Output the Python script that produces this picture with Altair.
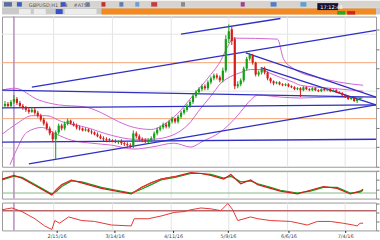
import altair as alt
import pandas as pd

# ---------------- price candles (bar index, price in chart units) ----------------
opens = [62, 64, 62, 66, 69, 65, 62, 60, 58, 56,
         58, 55, 52, 48, 44, 39, 34, 28, 35, 42,
         39, 44, 47, 44, 42, 40, 39, 37, 38, 36,
         35, 33, 31, 29, 28, 28, 27, 26, 25, 26,
         24, 23, 22, 21, 34, 31, 28, 27, 26, 27,
         29, 34, 38, 40, 43, 41, 46, 49, 46, 51,
         55, 58, 62, 66, 72, 76, 79, 82, 80, 86,
         90, 93, 91, 88, 98, 130, 140, 130, 82, 84,
         88, 100, 110, 114, 106, 94, 96, 100, 96, 90,
         87, 85, 86, 84, 83, 84, 82, 81, 79, 80,
         78, 81, 79, 78, 80, 78, 77, 79, 78, 79,
         77, 78, 76, 75, 73, 71, 69, 70, 67, 69]
closes = [64, 62, 66, 69, 65, 62, 60, 58, 56, 58,
          55, 52, 48, 44, 39, 34, 28, 35, 42, 39,
          44, 47, 44, 42, 40, 39, 37, 38, 36, 35,
          33, 31, 29, 28, 27, 27, 26, 25, 26, 24,
          23, 22, 21, 34, 31, 28, 27, 26, 27, 29,
          34, 38, 40, 43, 41, 46, 49, 46, 51, 55,
          58, 62, 66, 72, 76, 79, 82, 80, 86, 90,
          93, 91, 88, 98, 130, 138, 128, 82, 84, 88,
          100, 110, 114, 106, 94, 96, 100, 96, 90, 87,
          85, 86, 84, 83, 84, 82, 81, 79, 80, 78,
          81, 79, 78, 80, 78, 77, 79, 78, 79, 77,
          78, 76, 75, 73, 71, 69, 70, 67, 69, 70]
highs = [67, 66, 68, 73, 71, 67, 64, 62, 60, 61,
         60, 57, 54, 50, 46, 41, 36, 37, 44, 44,
         46, 49, 48, 46, 44, 42, 40, 40, 39, 38,
         36, 35, 33, 31, 30, 29, 28, 28, 27, 28,
         26, 25, 24, 37, 36, 33, 30, 29, 29, 31,
         36, 40, 42, 45, 45, 48, 51, 50, 53, 57,
         60, 64, 68, 74, 78, 81, 84, 84, 88, 92,
         95, 95, 93, 101, 134, 145, 143, 132, 87, 90,
         102, 112, 116, 115, 107, 98, 101, 102, 97, 91,
         88, 87, 87, 85, 85, 85, 83, 82, 81, 81,
         82, 82, 80, 81, 81, 79, 80, 80, 80, 80,
         79, 79, 77, 76, 74, 72, 71, 71, 70, 71]
lows = [60, 60, 60, 64, 63, 60, 58, 56, 54, 55,
        53, 50, 46, 42, 37, 32, 25, 8, 33, 37,
        37, 42, 43, 41, 38, 37, 36, 36, 35, 33,
        32, 30, 28, 26, 25, 25, 25, 24, 23, 22,
        21, 20, 19, 19, 29, 26, 25, 24, 24, 25,
        27, 32, 36, 38, 39, 39, 44, 44, 44, 49,
        53, 56, 60, 64, 70, 74, 77, 78, 78, 84,
        88, 89, 86, 86, 96, 126, 124, 79, 80, 82,
        86, 98, 108, 104, 92, 92, 94, 94, 88, 85,
        83, 84, 83, 82, 82, 81, 80, 78, 78, 71,
        77, 78, 77, 77, 77, 76, 76, 77, 77, 76,
        76, 75, 74, 72, 70, 68, 68, 66, 65, 68]
bars = list(range(len(closes)))

# ---------------- envelope bands (pink) ----------------
upper_x = [-1, 3.3, 11.3, 18, 26.7, 32.3, 38, 43.3, 49, 54.7, 59, 62.3, 65.7, 69, 72.3, 74.7, 76.7,
           91.3, 93.3, 96.7, 99, 104.7, 112.3, 120]
upper_v = [78, 80, 68, 63, 61, 55, 46, 40, 38, 46, 58, 70, 82, 94, 108, 123, 131,
           130, 110, 100, 96, 91, 86, 83]
mid_x = [-1, 4, 9, 14, 19, 27.3, 35.7, 43.3, 49, 54, 58, 62.3, 64.7, 69, 72.3, 75.7, 79, 82.3,
         85.7, 89, 92.3, 96.7, 99, 109, 120]
mid_v = [33, 44, 52, 52, 46, 40, 32, 28, 28, 30, 35, 46, 56, 72, 85, 92, 96, 99,
         99, 95, 91, 86, 83, 80, 77]
lower_x = [1.7, 4, 7.3, 12.3, 17.3, 22.3, 29, 35.7, 43.3, 49, 56.7, 62.3, 65.7, 73.3, 76.7, 79,
           82.3, 84.7, 92.3, 99, 109, 120]
lower_v = [2, 18, 35, 40, 33, 27, 24, 22, 18, 20, 24, 20, 25, 38, 48, 56,
           68, 73, 71, 70, 71, 70]

# ---------------- drawn trend lines (blue) ----------------
trend_x1 = [59, 9, 80.7, 85.7, -1, -1, 8, -1]
trend_v1 = [135, 81, 116, 101, 78, 60, 3, 25]
trend_x2 = [92.3, 124.3, 124.3, 124.3, 124.3, 124.3, 124.3, 124.3]
trend_v2 = [151, 139, 71, 63, 71, 63, 63, 28]

orange_levels = [106, 49]
grid_bars = [16.3, 36, 55.7, 75, 94.7, 114]
grid_levels = [135, 77, 19]
marker_bar = [3]

# ---------------- oscillator panel ----------------
osc_x = [-1, 3, 5.7, 9, 12.3, 15.7, 17.3, 19, 22.3, 25.7, 29, 32.3, 37.3, 42.3, 45.7, 49, 52.3,
         57.3, 62.3, 65.7, 69, 73.3, 75.7, 79, 82.3, 84.7, 89, 92.3, 98, 102.3, 106.7, 111.3,
         115.7, 119, 120]
osc_main = [21, 25, 22, 16, 10, 4, 10, 15, 20, 17, 14, 11, 8, 5, 12, 17, 21,
            24, 28, 27, 25, 21, 26, 16, 20, 15, 11, 8, 5, 9, 13, 11,
            5, 8, 10]
osc_signal = [20, 24, 23, 17, 11, 5, 8, 13, 19, 18, 15, 12, 9, 6, 10, 15, 20,
              23, 27, 27, 26, 22, 24, 18, 19, 16, 12, 9, 6, 8, 12, 12,
              6, 7, 9]
osc_levels = [29, 6]
osc_red_segments = [(15.7, 22.3), (42.3, 57.3)]

# ---------------- lower (red) panel ----------------
red_x = [-1, 2.3, 5.7, 10, 13.3, 15.7, 16.7, 18.3, 21.3, 25.7, 30, 35.7, 42.3, 43.3, 48, 52.3,
         56.7, 60, 62.3, 65.7, 69, 72.3, 74.7, 76.3, 78, 82.3, 84.7, 89, 95.7, 101.3, 104.7,
         109, 113.3, 116.7, 118, 119, 120]
red_v = [23, 25, 21, 13, 5, 1, 11, 8, 15, 11, 10, 6, 5, 13, 13, 16,
         20, 21, 23, 25, 24, 22, 30, 23, 11, 15, 13, 11, 10, 6, 10,
         10, 8, 6, 5, 8, 8]
red_level = [22]

tick_bars = [17.3, 36.7, 56.3, 74.7, 95, 114]
tick_labels = ["2/15/16", "3/14/16", "4/11/16", "5/9/16", "6/6/16", "7/4/16"]

# ---------------- toolbar (UI chrome) ----------------
tb_x0 = [0, 0, 100, 2, 15, 59, 84, 100, 118, 134, 150, 180, 240, 270, 300, 317, 337, 347, 17, 32, 54, 63]
tb_x1 = [380, 380, 376, 10, 20, 64, 88, 104, 122, 138, 156, 184, 244, 276, 306, 338, 345, 355, 29, 44, 61, 95]
tb_y0 = [0, 7, 8, 1.5, 1.5, 1.5, 1.5, 1.5, 1.5, 1.5, 1.5, 1.5, 1.5, 1.5, 1.5, 2.5, 10.5, 10.5, 8.5, 8.5, 8.5, 8.5]
tb_y1 = [7, 14, 14, 6, 6, 6, 6, 6, 6, 6, 6, 6, 6, 6, 6, 9.5, 14, 14, 13.5, 13.5, 13.5, 13.5]
tb_col = ["#d7d4cf", "#c9c9c9", "#f3891f", "#5a6f9a", "#3f5fc0", "#3a56c8", "#7c8aa8", "#c03030",
          "#5a7fb0", "#6aa0d0", "#c04040", "#8a8a8a", "#a04090", "#5080c0", "#60a0d0", "#141438",
          "#22aa22", "#d02424", "#ececec", "#ececec", "#3a50c8", "#ececec"]

W, H_TB, H_MAIN, H_OSC, H_RED = 376, 14, 151, 28, 28
xs = alt.Scale(domain=[-1, 124.33], nice=False, zero=False)
no_x = alt.Axis(labels=False, ticks=False, domain=False, grid=False, title=None)


def right_axis(count):
    return alt.Axis(orient="right", labels=False, ticks=True, tickSize=3, tickCount=count,
                    domain=False, grid=False, title=None, tickColor="#777")


# toolbar chart
tb = pd.DataFrame({"x0": tb_x0, "x1": tb_x1, "y0": tb_y0, "y1": tb_y1, "c": tb_col})
tbx = alt.Scale(domain=[0, 379], nice=False, zero=False)
tby = alt.Scale(domain=[0, 14], reverse=True, nice=False, zero=False)
toolbar_rects = alt.Chart(tb).mark_rect().encode(
    x=alt.X("x0:Q", scale=tbx, axis=None), x2="x1:Q",
    y=alt.Y("y0:Q", scale=tby, axis=None), y2="y1:Q",
    color=alt.Color("c:N", scale=None))
toolbar_text = alt.Chart(pd.DataFrame({"x": [320, 27, 72], "y": [6.3, 4.8, 4.8],
                                       "t": ["17:12:48", "GBPUSD,H1 1.4", "#AT50"],
                                       "c": ["#ffffff", "#555555", "#555555"]})).mark_text(
    fontSize=5, align="left", font="DejaVu Sans").encode(
    x=alt.X("x:Q", scale=tbx, axis=None), y=alt.Y("y:Q", scale=tby, axis=None),
    text="t:N", color=alt.Color("c:N", scale=None))
toolbar = alt.layer(toolbar_rects, toolbar_text).properties(width=379, height=H_TB, view=alt.ViewConfig(stroke=None))

# main price panel
ys = alt.Scale(domain=[0, 153], nice=False, zero=False)
cd = pd.DataFrame({"bar": bars, "open": opens, "close": closes, "high": highs, "low": lows})
cd["dir"] = ["up" if c > o else "down" for o, c in zip(opens, closes)]
ccol = alt.Color("dir:N", scale=alt.Scale(domain=["up", "down"], range=["#14a014", "#d41c1c"]), legend=None)

gridv = alt.Chart(pd.DataFrame({"bar": grid_bars})).mark_rule(color="#e4e4e4", strokeWidth=1).encode(
    x=alt.X("bar:Q", scale=xs, axis=no_x))
gridh = alt.Chart(pd.DataFrame({"v": grid_levels})).mark_rule(color="#e4e4e4", strokeWidth=1).encode(
    y=alt.Y("v:Q", scale=ys, axis=right_axis(8)))
orange = alt.Chart(pd.DataFrame({"v": orange_levels})).mark_rule(color="#f3a477", strokeWidth=1).encode(
    y=alt.Y("v:Q", scale=ys))
marker = alt.Chart(pd.DataFrame({"bar": marker_bar})).mark_rule(color="#b58cbc", strokeWidth=1.5).encode(
    x=alt.X("bar:Q", scale=xs))

bands = pd.concat([
    pd.DataFrame({"bar": upper_x, "v": upper_v, "band": "upper"}),
    pd.DataFrame({"bar": mid_x, "v": mid_v, "band": "middle"}),
    pd.DataFrame({"bar": lower_x, "v": lower_v, "band": "lower"}),
])
band_lines = alt.Chart(bands).mark_line(color="#d264d6", strokeWidth=1, clip=True, interpolate="monotone").encode(
    x=alt.X("bar:Q", scale=xs), y=alt.Y("v:Q", scale=ys), detail="band:N")

trend = pd.DataFrame({"x1": trend_x1, "v1": trend_v1, "x2": trend_x2, "v2": trend_v2})
trend_lines = alt.Chart(trend).mark_rule(color="#2f2fc4", strokeWidth=1.3, clip=True).encode(
    x=alt.X("x1:Q", scale=xs), x2="x2:Q", y=alt.Y("v1:Q", scale=ys), y2="v2:Q")

wicks = alt.Chart(cd).mark_rule(strokeWidth=1).encode(
    x=alt.X("bar:Q", scale=xs), y=alt.Y("low:Q", scale=ys), y2="high:Q", color=ccol)
bodies = alt.Chart(cd).mark_rule(strokeWidth=2.2).encode(
    x=alt.X("bar:Q", scale=xs), y=alt.Y("open:Q", scale=ys), y2="close:Q", color=ccol)

main = alt.layer(gridv, gridh, orange, marker, band_lines, trend_lines, wicks, bodies).properties(
    width=W, height=H_MAIN)

# oscillator panel
os_ = alt.Scale(domain=[0, 30], nice=False, zero=False)
osc_df = pd.concat([
    pd.DataFrame({"bar": osc_x, "s": osc_signal, "line": "signal"}),
    pd.DataFrame({"bar": osc_x, "s": osc_main, "line": "main"}),
])
red_rows = []
for k, (a, b) in enumerate(osc_red_segments):
    for bx, sv in zip(osc_x, osc_main):
        if a <= bx <= b:
            red_rows.append({"bar": bx, "s": sv, "seg": k})
osc_red = pd.DataFrame(red_rows)

gridv2 = alt.Chart(pd.DataFrame({"bar": grid_bars})).mark_rule(color="#e4e4e4").encode(
    x=alt.X("bar:Q", scale=xs, axis=no_x))
osc_lv = alt.Chart(pd.DataFrame({"s": osc_levels})).mark_rule(color="#86b886", strokeWidth=1).encode(
    y=alt.Y("s:Q", scale=os_, axis=right_axis(4)))
marker2 = alt.Chart(pd.DataFrame({"bar": marker_bar})).mark_rule(color="#b58cbc", strokeWidth=1.5).encode(
    x=alt.X("bar:Q", scale=xs))
osc_lines = alt.Chart(osc_df).mark_line(strokeWidth=1.2, clip=True).encode(
    x=alt.X("bar:Q", scale=xs), y=alt.Y("s:Q", scale=os_),
    color=alt.Color("line:N", scale=alt.Scale(domain=["signal", "main"], range=["#3cc8c0", "#505050"]), legend=None),
    detail="line:N")
osc_red_line = alt.Chart(osc_red).mark_line(strokeWidth=1.2, color="#e03a3a", clip=True).encode(
    x=alt.X("bar:Q", scale=xs), y=alt.Y("s:Q", scale=os_), detail="seg:N")
osc = alt.layer(gridv2, osc_lv, marker2, osc_lines, osc_red_line).properties(width=W, height=H_OSC)

# lower red panel with date axis
rs = alt.Scale(domain=[0, 31], nice=False, zero=False)
label_expr = "''"
for b, t in reversed(list(zip(tick_bars, tick_labels))):
    label_expr = f"abs(datum.value - {b}) < 0.5 ? '{t}' : " + label_expr
gridv3 = alt.Chart(pd.DataFrame({"bar": grid_bars})).mark_rule(color="#e4e4e4").encode(
    x=alt.X("bar:Q", scale=xs,
            axis=alt.Axis(values=tick_bars, labelExpr=label_expr, labelFontSize=5, labelColor="#444",
                          labelFont="DejaVu Sans", tickSize=2, tickColor="#222", domain=False,
                          grid=False, title=None, labelPadding=1, labelFlush=False)))
red_lv = alt.Chart(pd.DataFrame({"r": red_level})).mark_rule(color="#b86a6a", strokeWidth=1.5).encode(
    y=alt.Y("r:Q", scale=rs, axis=right_axis(4)))
marker3 = alt.Chart(pd.DataFrame({"bar": marker_bar})).mark_rule(color="#b58cbc", strokeWidth=1.5).encode(
    x=alt.X("bar:Q", scale=xs))
red_line = alt.Chart(pd.DataFrame({"bar": red_x, "r": red_v})).mark_line(
    color="#e23636", strokeWidth=1, clip=True).encode(
    x=alt.X("bar:Q", scale=xs), y=alt.Y("r:Q", scale=rs))
redp = alt.layer(gridv3, red_lv, marker3, red_line).properties(width=W, height=H_RED)

chart = alt.vconcat(toolbar, main, osc, redp, spacing=0).properties(
    padding=0, background="#ffffff"
).configure_view(stroke="#9a9a9a", strokeWidth=1, fill="#ffffff")

chart.save("out.html", embed_options={"renderer": "svg", "actions": False})
